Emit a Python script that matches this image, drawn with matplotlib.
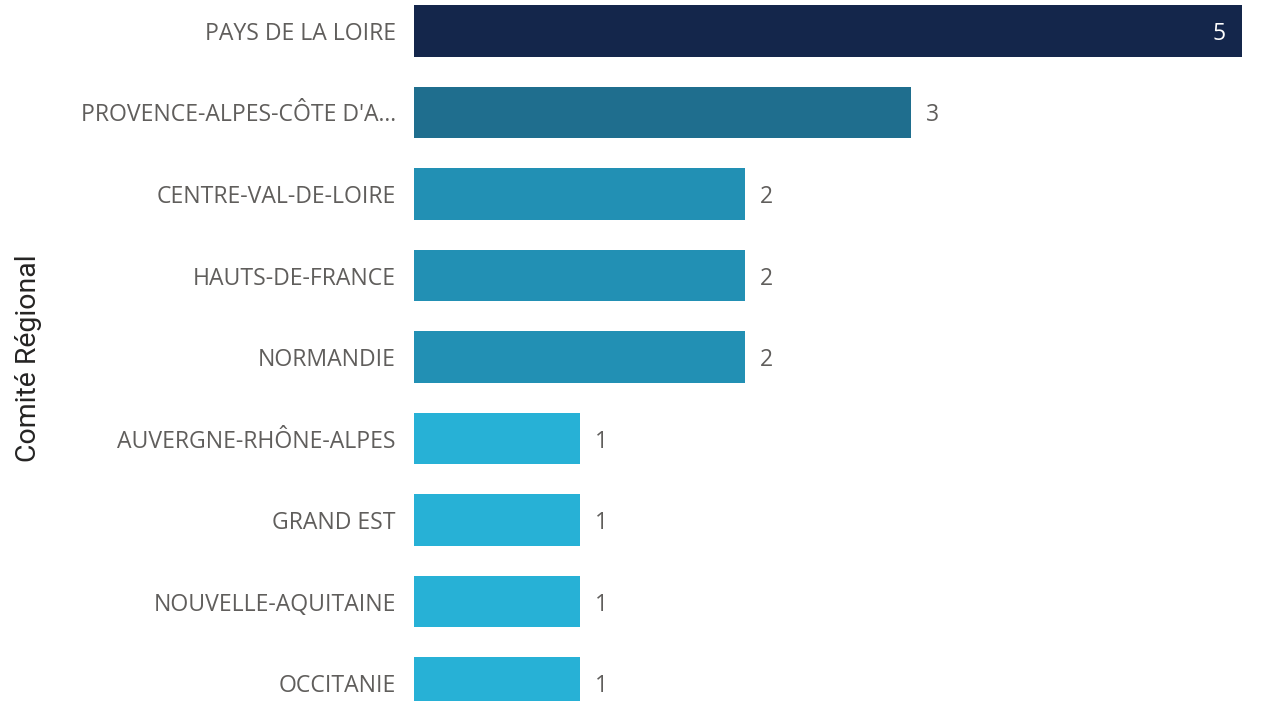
import matplotlib.pyplot as plt

regions = ["PAYS DE LA LOIRE", "PROVENCE-ALPES-CÔTE D'A...", "CENTRE-VAL-DE-LOIRE",
           "HAUTS-DE-FRANCE", "NORMANDIE", "AUVERGNE-RHÔNE-ALPES", "GRAND EST",
           "NOUVELLE-AQUITAINE", "OCCITANIE"]
counts = [5, 3, 2, 2, 2, 1, 1, 1, 1]

shade = {5: "#14264B", 3: "#1F6E8E", 2: "#2290B4", 1: "#27B1D6"}
colors = [shade[c] for c in counts]

plt.rcParams['font.family'] = ['Open Sans', 'DejaVu Sans']

fig = plt.figure(figsize=(12.7, 7.01), dpi=100)
ax = fig.add_axes([414 / 1270, 0, 828 / 1270, 1])

ypos = list(range(len(regions)))
ax.barh(ypos, counts, height=0.63, color=colors)
ax.set_xlim(0, 5)
ax.set_ylim(8.22, -0.38)

for y, c in zip(ypos, counts):
    if c == max(counts):
        ax.annotate(str(c), (c, y), xytext=(-16, 0), textcoords="offset pixels",
                    ha="right", va="center_baseline", color="white", fontsize=16.5,
                    annotation_clip=False)
    else:
        ax.annotate(str(c), (c, y), xytext=(15, 0), textcoords="offset pixels",
                    ha="left", va="center_baseline", color="#605E5C", fontsize=16.5,
                    annotation_clip=False)

ax.set_yticks(ypos)
ax.set_yticklabels(regions, fontsize=16.6, color="#605E5C", va="center_baseline")
ax.tick_params(axis="y", length=0, pad=13)
ax.set_xticks([])
for s in ax.spines.values():
    s.set_visible(False)

fig.text(29 / 1270, 0.5 + (701 / 2 - 358) / 701, "Comité Régional", rotation=90,
         ha="center", va="center", fontsize=20.5, color="#252423",
         family=["Roboto", "DejaVu Sans"])

fig.savefig("out.png", dpi=100)
